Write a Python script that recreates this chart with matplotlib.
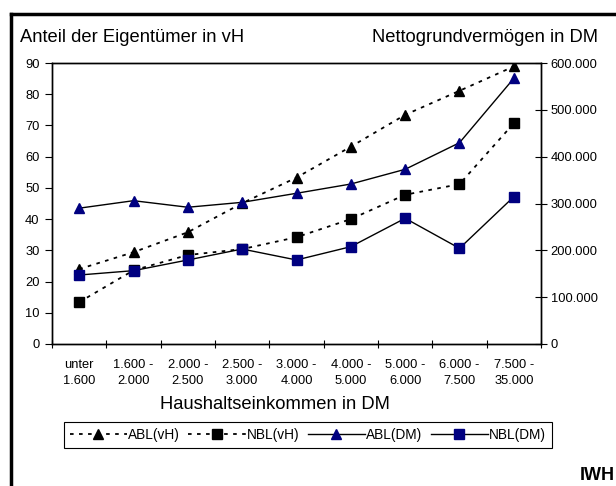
import numpy as np
import matplotlib.pyplot as plt
from matplotlib.lines import Line2D
from matplotlib.ticker import FuncFormatter

plt.rcParams['font.family'] = ['Liberation Sans', 'DejaVu Sans']

# Haushaltseinkommen-Klassen
kategorien = ['unter\n1.600', '1.600 -\n2.000', '2.000 -\n2.500', '2.500 -\n3.000',
              '3.000 -\n4.000', '4.000 -\n5.000', '5.000 -\n6.000', '6.000 -\n7.500',
              '7.500 -\n35.000']

# Anteil der Eigentuemer in vH (linke Achse)
abl_vh = [24.0, 29.4, 35.8, 45.1, 53.3, 63.2, 73.4, 81.1, 88.9]
nbl_vh = [13.4, 23.6, 28.5, 30.4, 34.2, 40.0, 47.8, 51.2, 70.7]

# Nettogrundvermoegen in DM (rechte Achse)
abl_dm = [290000, 306000, 292000, 302500, 321800, 341600, 373000, 429800, 567300]
nbl_dm = [147300, 156600, 179400, 202800, 179400, 207800, 268400, 204300, 314500]

navy = '#000080'
x = np.arange(len(kategorien)) + 0.5

fig = plt.figure(figsize=(6.16, 4.86), dpi=100)
ax = fig.add_axes([52/616, 1 - 344/486, (541 - 52)/616, (344 - 63)/486])
ax2 = ax.twinx()

l1, = ax.plot(x, abl_vh, color='black', lw=1.3, dashes=(2, 3), marker='^',
              ms=7, mfc='black', mec='black', label='ABL(vH)')
l2, = ax.plot(x, nbl_vh, color='black', lw=1.3, dashes=(2, 3), marker='s',
              ms=6.5, mfc='black', mec='black', label='NBL(vH)')
l3, = ax2.plot(x, abl_dm, color='black', lw=1, marker='^',
               ms=7, mfc=navy, mec=navy, label='ABL(DM)')
l4, = ax2.plot(x, nbl_dm, color='black', lw=1, marker='s',
               ms=6.5, mfc=navy, mec=navy, label='NBL(DM)')

ax.set_xlim(0, 9)
ax.set_ylim(0, 90)
ax.set_yticks(range(0, 91, 10))
ax2.set_ylim(0, 600000)
ax2.set_yticks(range(0, 600001, 100000))
ax2.yaxis.set_major_formatter(FuncFormatter(lambda v, p: f'{int(v):,}'.replace(',', '.')))

ax.set_xticks(range(0, 10))
ax.set_xticklabels([])
ax.set_xticks(x, minor=True)
ax.set_xticklabels(kategorien, minor=True, fontsize=9.3, linespacing=1.5)
ax.tick_params(axis='x', which='major', direction='inout', length=6, width=0.8)
ax.tick_params(axis='x', which='minor', length=0, pad=10.5)
ax.tick_params(axis='y', direction='out', length=5, width=0.8, labelsize=9.3, pad=4)
ax2.tick_params(axis='y', direction='inout', length=8, width=0.8, labelsize=9.3, pad=3)

for a in (ax, ax2):
    for s in a.spines.values():
        s.set_linewidth(1)

fig.text(20/616, 1 - 37/486, 'Anteil der Eigentümer in vH', fontsize=13.2, va='center', ha='left')
fig.text(598/616, 1 - 37/486, 'Nettogrundvermögen in DM', fontsize=13.2, va='center', ha='right')
fig.text(275/616, 1 - 404/486, 'Haushaltseinkommen in DM', fontsize=13.2, va='center', ha='center')
fig.text(580/616, 1 - 475/486, 'IWH', fontsize=13, fontweight='bold', va='center', ha='left')

leg = fig.legend(handles=[l1, l2, l3, l4], loc='center', ncol=4,
                 bbox_to_anchor=((63 + 553)/2/616, 1 - 435/486),
                 fontsize=9.8, frameon=True, fancybox=False, edgecolor='black',
                 framealpha=1, handlelength=4.2, handletextpad=0.1,
                 columnspacing=0.6, borderpad=0.45, borderaxespad=0)
leg.get_frame().set_linewidth(0.8)

# Rahmen links und oben
fig.add_artist(Line2D([10.5/616, 10.5/616], [0, 1 - 14.5/486], color='black', lw=2.5,
                      transform=fig.transFigure))
fig.add_artist(Line2D([10.5/616, 1], [1 - 14.5/486, 1 - 14.5/486], color='black', lw=2.5,
                      transform=fig.transFigure))

fig.savefig('out.png', dpi=100)
